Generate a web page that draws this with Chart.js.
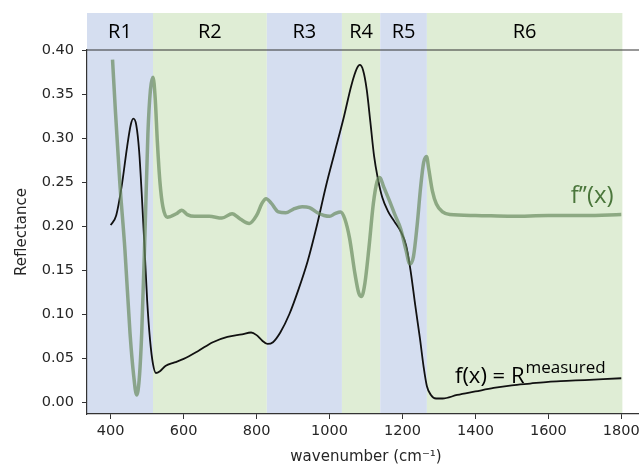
<!DOCTYPE html>
<html>
<head>
<meta charset="utf-8">
<script src="https://cdn.jsdelivr.net/npm/chart.js@4.4.1/dist/chart.umd.min.js"></script>
<style>
  html, body { margin: 0; padding: 0; overflow: hidden; background: #fff; }
  #wrap { width: 645px; height: 470px; }
</style>
</head>
<body>
<div id="wrap"><canvas id="chart" width="645" height="470"></canvas></div>
<script>
// measured reflectance f(x)
const fX = [400, 415, 430, 445, 455, 462, 470, 478, 485, 492, 500, 508, 516, 524, 535, 550, 575, 600, 640, 680,
            720, 760, 785, 800, 815, 830, 845, 865, 890, 915, 940, 965, 990, 1015, 1040, 1060, 1075, 1083, 1092, 1102,
            1112, 1122, 1132, 1145, 1160, 1178, 1195, 1210, 1222, 1235, 1248, 1258, 1267, 1278, 1292, 1310, 1350, 1400, 1450, 1500,
            1550, 1600, 1650, 1700, 1750, 1800];
const fY = [0.201, 0.212, 0.245, 0.290, 0.315, 0.322, 0.315, 0.285, 0.237, 0.182, 0.115, 0.070, 0.043, 0.033, 0.035, 0.041, 0.045, 0.049, 0.058, 0.068,
            0.074, 0.077, 0.079, 0.076, 0.070, 0.066, 0.068, 0.079, 0.100, 0.128, 0.160, 0.200, 0.245, 0.285, 0.325, 0.360, 0.379, 0.383, 0.377, 0.355,
            0.318, 0.280, 0.255, 0.232, 0.217, 0.205, 0.194, 0.178, 0.150, 0.110, 0.072, 0.040, 0.018, 0.008, 0.004, 0.004, 0.008, 0.012, 0.016, 0.019,
            0.021, 0.023, 0.024, 0.025, 0.026, 0.027];

// second derivative f''(x), shifted
const dX = [405, 413, 425, 439, 453, 463, 471, 478, 485, 494, 502, 509, 516, 522, 528, 535, 543, 555, 580, 595,
            610, 630, 670, 705, 733, 755, 780, 800, 815, 826, 840, 860, 880, 900, 925, 945, 967, 985, 1000, 1015,
            1030, 1042, 1055, 1070, 1080, 1088, 1097, 1108, 1120, 1130, 1138, 1148, 1165, 1180, 1195, 1210, 1220, 1230, 1240, 1250,
            1258, 1266, 1272, 1282, 1293, 1310, 1330, 1400, 1500, 1600, 1700, 1800];
const dY = [0.389, 0.330, 0.249, 0.173, 0.078, 0.030, 0.008, 0.025, 0.078, 0.192, 0.305, 0.355, 0.369, 0.345, 0.295, 0.250, 0.222, 0.210, 0.214, 0.218,
            0.213, 0.211, 0.211, 0.209, 0.214, 0.208, 0.203, 0.212, 0.226, 0.231, 0.226, 0.216, 0.215, 0.219, 0.222, 0.221, 0.215, 0.212, 0.211, 0.214,
            0.216, 0.208, 0.186, 0.145, 0.124, 0.120, 0.135, 0.175, 0.225, 0.250, 0.255, 0.245, 0.228, 0.212, 0.197, 0.172, 0.157, 0.165, 0.200, 0.245,
            0.272, 0.279, 0.265, 0.240, 0.225, 0.216, 0.213, 0.212, 0.211, 0.212, 0.212, 0.213];

// regions
const bandNames = ['R1', 'R2', 'R3', 'R4', 'R5', 'R6'];
const bandStart = [335, 516, 828, 1034, 1139, 1267];
const bandEnd = [516, 828, 1034, 1139, 1267, 1803];

const xTicks = [400, 600, 800, 1000, 1200, 1400, 1600, 1800];
const yTicks = [0, 0.05, 0.10, 0.15, 0.20, 0.25, 0.30, 0.35, 0.40];

const blueBand = '#d5def0';
const greenBand = '#dfedd5';
const tickFont = { family: 'DejaVu Sans', size: 14.5 };
const noteFont = '"Open Sans", "Noto Sans", sans-serif';

const toPts = (xs, ys) => xs.map((x, i) => ({ x: x, y: ys[i] }));

const backdrop = {
    id: 'backdrop',
    beforeDraw(chart) {
        const ctx = chart.ctx;
        const area = chart.chartArea;
        const xs = chart.scales.x;
        ctx.save();
        for (let i = 0; i < bandNames.length; i++) {
            const x0 = xs.getPixelForValue(bandStart[i]);
            const x1 = xs.getPixelForValue(bandEnd[i]);
            ctx.fillStyle = i % 2 === 0 ? blueBand : greenBand;
            ctx.fillRect(x0, area.top - 37, x1 - x0, area.bottom - area.top + 37);
            ctx.fillStyle = '#000';
            ctx.font = '20px ' + noteFont;
            ctx.textAlign = 'center';
            ctx.textBaseline = 'middle';
            ctx.fillText(bandNames[i], (x0 + x1) / 2, area.top - 18);
        }
        // top spine
        ctx.strokeStyle = '#333';
        ctx.lineWidth = 1.2;
        ctx.beginPath();
        ctx.moveTo(area.left, area.top);
        ctx.lineTo(chart.width, area.top);
        ctx.stroke();
        ctx.restore();
    },
    afterDatasetsDraw(chart) {
        const ctx = chart.ctx;
        const xs = chart.scales.x;
        const ys = chart.scales.y;
        ctx.save();
        ctx.textBaseline = 'alphabetic';
        ctx.textAlign = 'right';
        ctx.fillStyle = '#4a763b';
        ctx.font = '24px ' + noteFont;
        ctx.fillText('f\u2019\u2019(x)', xs.getPixelForValue(1779), ys.getPixelForValue(0.226));

        ctx.fillStyle = '#000';
        const rx = xs.getPixelForValue(1757);
        const by = ys.getPixelForValue(0.0216);
        ctx.font = '17px ' + noteFont;
        const supW = ctx.measureText('measured').width;
        ctx.fillText('measured', rx, by - 10);
        ctx.font = '22px ' + noteFont;
        ctx.fillText('f(x) = R', rx - supW - 1, by);
        ctx.restore();
    }
};

new Chart(document.getElementById('chart'), {
    type: 'line',
    data: {
        datasets: [
            {
                label: "f''(x)",
                data: toPts(dX, dY),
                borderColor: 'rgba(105, 140, 95, 0.7)',
                borderWidth: 3.5,
                pointRadius: 0,
                cubicInterpolationMode: 'monotone',
                fill: false
            },
            {
                label: 'f(x)',
                data: toPts(fX, fY),
                borderColor: '#111',
                borderWidth: 1.8,
                pointRadius: 0,
                cubicInterpolationMode: 'monotone',
                fill: false
            }
        ]
    },
    options: {
        responsive: false,
        animation: false,
        layout: { padding: { top: 50, left: 0, right: 0, bottom: 0 } },
        plugins: { legend: { display: false }, tooltip: { enabled: false } },
        scales: {
            x: {
                type: 'linear',
                min: 335,
                max: 1865,
                afterBuildTicks: s => { s.ticks = xTicks.map(v => ({ value: v })); },
                afterFit: s => { s.height = 56; },
                grid: { drawOnChartArea: false, tickLength: 5, color: '#333' },
                border: { color: '#333', width: 1.2 },
                ticks: { font: tickFont, color: '#262626', padding: 4, maxRotation: 0, callback: v => String(v) },
                title: {
                    display: true,
                    text: 'wavenumber (cm\u207B\u00B9)',
                    font: { family: 'DejaVu Sans', size: 15 },
                    color: '#262626',
                    padding: { top: 0, bottom: 4 }
                }
            },
            y: {
                min: -0.0136,
                max: 0.40,
                afterBuildTicks: s => { s.ticks = yTicks.map(v => ({ value: v })); },
                afterFit: s => { s.width = 87; },
                grid: { drawOnChartArea: false, tickLength: 5, color: '#333' },
                border: { color: '#333', width: 1.2 },
                ticks: { font: tickFont, color: '#262626', padding: 8, callback: v => v.toFixed(2) },
                title: {
                    display: true,
                    text: 'Reflectance',
                    font: { family: 'DejaVu Sans', size: 15 },
                    color: '#262626',
                    padding: { top: 13, bottom: 0 }
                }
            }
        }
    },
    plugins: [backdrop]
});
</script>
</body>
</html>
